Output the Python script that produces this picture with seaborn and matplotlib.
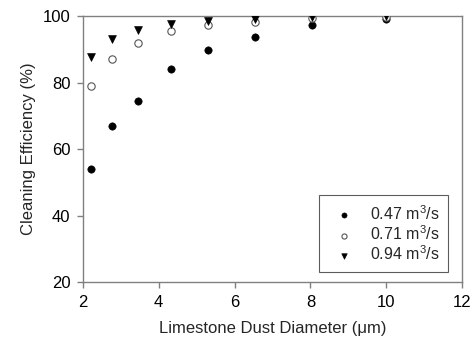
import numpy as np
import pandas as pd
import matplotlib
matplotlib.use("Agg")
import matplotlib.pyplot as plt
import seaborn as sns

# Data
diameter = [2.21, 2.76, 3.46, 4.32, 5.29, 6.53, 8.04, 10.0]
eff_047 = [53.9, 67.1, 74.6, 84.0, 89.7, 93.6, 97.2, 99.0]
eff_071 = [78.9, 87.2, 91.8, 95.5, 97.3, 98.3, 99.3, 99.8]
eff_094 = [87.8, 93.1, 95.8, 97.6, 98.6, 99.2, 99.6, 100.0]
flow_labels = ["0.47 m$^3$/s", "0.71 m$^3$/s", "0.94 m$^3$/s"]

sns.set_style("white")
plt.rcParams["font.family"] = ["Liberation Sans", "DejaVu Sans"]
plt.rcParams["mathtext.default"] = "regular"

fig = plt.figure(figsize=(4.76, 3.44), dpi=100)
ax = fig.add_axes([0.174, 0.180, 0.797, 0.773])

styles = [
    dict(marker="o", color="black", edgecolor="black", s=28),
    dict(marker="o", color="white", edgecolor="#555555", s=28, linewidth=0.8),
    dict(marker="v", color="black", edgecolor="black", s=32),
]
for vals, lab, st in zip([eff_047, eff_071, eff_094], flow_labels, styles):
    df = pd.DataFrame({"d": diameter, "eff": vals})
    sns.scatterplot(data=df, x="d", y="eff", ax=ax, label=lab, zorder=3, **st)

ax.set_xlim(2, 12)
ax.set_ylim(20, 100)
ax.set_xticks(np.arange(2, 13, 2))
ax.set_yticks(np.arange(20, 101, 20))
ax.set_xlabel("Limestone Dust Diameter (\u03bcm)", fontsize=12, labelpad=8)
ax.set_ylabel("Cleaning Efficiency (%)", fontsize=12, labelpad=5)

for sp in ax.spines.values():
    sp.set_color("#808080")
    sp.set_linewidth(1.0)
ax.tick_params(axis="both", which="both", direction="out", length=4, width=1,
               color="#808080", labelsize=12, labelcolor="black", pad=5,
               bottom=True, left=True, top=False, right=False)

leg = ax.legend(loc="lower right", bbox_to_anchor=(0.963, 0.038), borderaxespad=0,
                frameon=True, fancybox=False, fontsize=11.5, handletextpad=0.6,
                borderpad=0.55, labelspacing=0.1, markerscale=0.7, handlelength=2.0)
leg.get_frame().set_edgecolor("#333333")
leg.get_frame().set_linewidth(0.8)

plt.savefig("out.png", dpi=100)
